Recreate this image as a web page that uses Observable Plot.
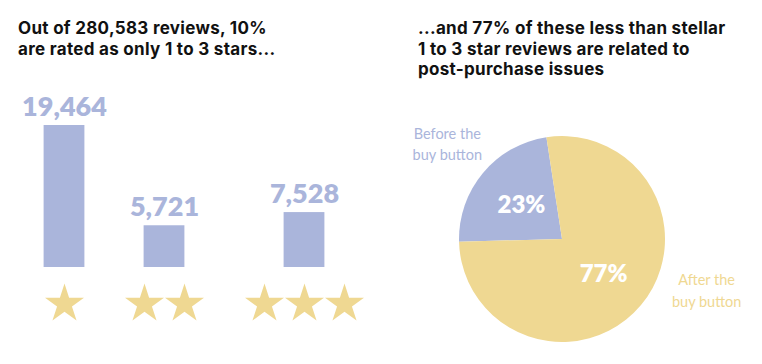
<!DOCTYPE html>
<html><head><meta charset="utf-8">
<script src="https://cdn.jsdelivr.net/npm/d3@7"></script>
<script src="https://cdn.jsdelivr.net/npm/@observablehq/plot@0.6"></script>
<style>
body{margin:0;background:#fff;font-family:Lato,"Open Sans",sans-serif;}
#wrap{position:relative;width:762px;height:364px;overflow:hidden;background:#fff}
.title{position:absolute;font-family:Inter,Lato,sans-serif;font-weight:700;font-size:17px;letter-spacing:0.3px;line-height:20.5px;color:#111;white-space:nowrap}
#t1{left:18px;top:18px;}
#t2{left:418px;top:18px;}
#left{position:absolute;left:0;top:64px}
#right{position:absolute;left:381px;top:64px}
</style></head><body>
<div id="wrap">
<div class="title" id="t1">Out of 280,583 reviews, 10%<br>are rated as only 1 to 3 stars...</div>
<div class="title" id="t2">...and 77% of these less than stellar<br>1 to 3 star reviews are related to<br>post-purchase issues</div>
<div id="left"></div><div id="right"></div>
</div>
<script>
// ---- data ----
const ratingCategories = ["1 star", "2 stars", "3 stars"];
const starCounts = [1, 2, 3];
const reviewCounts = [19464, 5721, 7528];

const pieCategories = ["Before the\nbuy button", "After the\nbuy button"];
const pieShares = [23, 77];

// ---- styles ----
const lavender = "#AAB5DB";
const yellow = "#EFD892";
const font = "Lato, 'Open Sans', sans-serif";

// ---- left: bars + stars ----
const bars = [];
const stars = [];
let slot = 0;
ratingCategories.forEach((cat, i) => {
  const n = starCounts[i];
  for (let k = 0; k < n; k++) stars.push({cat, slot: slot + k});
  bars.push({cat, value: reviewCounts[i], center: slot + (n - 1) / 2});
  slot += n + 1;
});
const slotMax = slot - 2;

const left = Plot.plot({
  width: 381, height: 300,
  marginLeft: 44, marginRight: 17, marginTop: 61, marginBottom: 97,
  style: {fontFamily: font, background: "transparent"},
  x: {domain: [-0.5, slotMax + 0.5], axis: null},
  y: {domain: [0, d3.max(reviewCounts)], axis: null},
  marks: [
    Plot.rectY(bars, {x1: d => d.center - 0.51, x2: d => d.center + 0.51, y: "value", fill: lavender}),
    Plot.text(bars, {x: "center", y: "value", text: d => d3.format(",")(d.value), fill: lavender,
      fontSize: 27, fontWeight: 800, fontFamily: font, lineAnchor: "bottom", dy: -10}),
    Plot.dot(stars, {x: "slot", y: () => 0, symbol: "star", r: 12.25, fill: yellow, stroke: "none", dy: 36.5})
  ]
});
document.getElementById("left").appendChild(left);

// ---- right: pie ----
const pieStartDeg = -91.5;
const arcs = d3.pie().sort(null)
  .startAngle(pieStartDeg * Math.PI / 180)
  .endAngle((pieStartDeg + 360) * Math.PI / 180)
  .value(d => d.share)(pieCategories.map((label, i) => ({label, share: pieShares[i], color: i === 0 ? lavender : yellow})));
const slices = arcs.map(a => ({...a.data, mid: (a.startAngle + a.endAngle) / 2}));
const outerLabelAngle = [-50, 109];
const outerLabelRadius = [1.46, 1.48];

const pieMark = (index, scales) => {
  const cx = scales.x(0), cy = scales.y(0), R = scales.x(1) - scales.x(0);
  const g = d3.create("svg:g").attr("transform", `translate(${cx},${cy})`);
  g.selectAll("path").data(arcs).join("path")
    .attr("d", d3.arc().innerRadius(0).outerRadius(R))
    .attr("fill", d => d.data.color);
  return g.node();
};

const right = Plot.plot({
  width: 381, height: 300,
  marginLeft: 78, marginRight: 97, marginTop: 72, marginBottom: 22,
  style: {fontFamily: font, background: "transparent"},
  x: {domain: [-1, 1], axis: null},
  y: {domain: [-1, 1], axis: null},
  marks: [
    pieMark,
    Plot.text(slices, {x: d => 0.52 * Math.sin(d.mid), y: d => 0.52 * Math.cos(d.mid),
      text: d => d.share + "%", fill: "white", fontSize: 24, fontWeight: 800, fontFamily: font}),
    Plot.text(slices, {
      x: (d, i) => outerLabelRadius[i] * Math.sin(outerLabelAngle[i] * Math.PI / 180),
      y: (d, i) => outerLabelRadius[i] * Math.cos(outerLabelAngle[i] * Math.PI / 180),
      text: "label", fill: d => d.color, fontSize: 14.5, lineHeight: 1.48, fontFamily: font})
  ]
});
document.getElementById("right").appendChild(right);
</script>
</body></html>
